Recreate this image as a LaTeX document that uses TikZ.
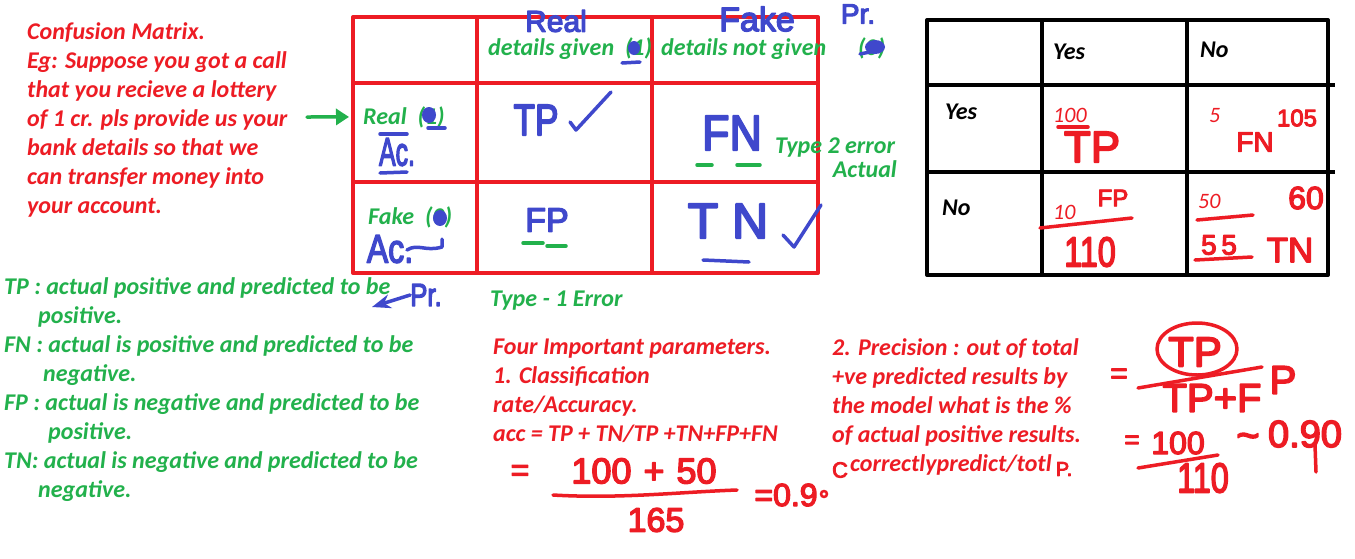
\documentclass[tikz,border=0pt]{standalone}
\usepackage{fontspec}
\setmainfont{Carlito}
\newfontfamily\handfont{Liberation Sans}[FakeBold=4]
\usetikzlibrary{arrows.meta}
\definecolor{paintred}{RGB}{237,28,36}
\definecolor{paintgreen}{RGB}{34,177,76}
\definecolor{paintblue}{RGB}{63,72,204}

\begin{document}
\begin{tikzpicture}[x=1pt,y=-1pt,>=Stealth,line cap=round,line join=round,
typed/.style={inner sep=0pt,anchor=base west,font=\fontsize{24}{29}\selectfont\bfseries\itshape},
para/.style={typed,anchor=north west,align=left},
small/.style={inner sep=0pt,anchor=base west,font=\fontsize{22}{22}\selectfont\itshape,text=paintred},
hand/.style={inner sep=0pt,font=\handfont\fontsize{#1}{#1}\selectfont},
hand/.default=30,
redgrid/.style={draw=paintred,line width=4pt,line cap=rect},
blackgrid/.style={draw=black,line width=4pt,line cap=rect},
stroke/.style={line width=3.5pt}]
\useasboundingbox[fill=white] (0,0) rectangle (1355,558);

\draw[redgrid] (353,17) rectangle (818,273);
\foreach \x in {477,652} \draw[redgrid] (\x,17) -- (\x,273);
\foreach \y in {83,182} \draw[redgrid] (353,\y) -- (818,\y);

\draw[blackgrid] (927,20) rectangle (1328,275);
\foreach \x in {1042,1187} \draw[blackgrid] (\x,20) -- (\x,275);
\foreach \y in {85,172} \draw[blackgrid] (927,\y) -- (1333,\y);

\node[para,text=paintred] (intro) at (27,22) {Confusion Matrix.\\Eg: Suppose you got a call\\that you recieve a lottery\\of 1 cr. pls provide us your\\bank details so that we\\can transfer money into\\your account.};
\node[para,text=paintgreen] (defs) at (4,277) {TP : actual positive and predicted to be\\\hspace*{34pt}positive.\\FN : actual is positive and predicted to be\\\hspace*{39pt}negative.\\FP : actual is negative and predicted to be\\\hspace*{44pt}positive.\\TN: actual is negative and predicted to be\\\hspace*{34pt}negative.};
\node[para,text=paintred] (params) at (493,339) {Four Important parameters.\\1. Classification\\rate/Accuracy.\\acc = TP + TN/TP +TN+FP+FN};
\node[para,text=paintred] (precision) at (832,338) {2. Precision : out of total\\+ve predicted results by\\the model what is the \%\\of actual positive results.\\\hspace*{18pt}correctlypredict/totl};

\node[typed,text=paintgreen] (given) at (488,55) {details given \ (1)};
\node[typed,text=paintgreen] (notgiven) at (661,55) {details not given};
\node[typed,text=paintgreen] (zero) at (858,55) {(0)};
\node[typed,text=paintgreen] (realrow) at (363,124) {Real \ (1)};
\node[typed,text=paintgreen] (fakerow) at (368,224) {Fake \ (0)};
\node[typed,text=paintgreen] (type2) at (775,153) {Type 2 error};
\node[typed,text=paintgreen,anchor=base east] (actual) at (897,177) {Actual};
\node[typed,text=paintgreen] (type1) at (490,306) {Type - 1 Error};

\node[typed] (yescol) at (1053,59) {Yes};
\node[typed] (nocol) at (1200,57) {No};
\node[typed] (yesrow) at (945,119) {Yes};
\node[typed] (norow) at (942,215) {No};
\node[small] (ntp) at (1053,122) {100};
\node[small] (nfn) at (1209,122) {5};
\node[small] (nfp) at (1053,219) {10};
\node[small] (ntn) at (1198,208) {50};

\fill[paintblue] (634,48) ellipse (6 and 7);
\draw[paintblue,stroke] (622,63) -- (640,62);
\fill[paintblue] (875,47) ellipse (10 and 7);
\draw[paintblue,stroke] (860,54) -- (880,50);
\fill[paintblue] (429,115) ellipse (7 and 8);
\draw[paintblue,stroke] (428,128) -- (445,128);
\fill[paintblue] (440,218) ellipse (7 and 8);

\node[hand=30,text=paintblue] (realhw) at (556,21) {Real};
\node[hand=34,text=paintblue] (fakehw) at (757,19) {Fake};
\node[hand=28,text=paintblue] (prtop) at (858,14) {Pr.};
\node[hand=40,text=paintblue] (acreal) at (397,152) {\scalebox{0.62}[1]{Ac.}};
\draw[paintblue,stroke] (380,134) -- (407,134);
\draw[paintblue,stroke] (380,173) -- (407,172);
\node[hand=40,text=paintblue] (acfake) at (390,249) {\scalebox{0.8}[1]{Ac.}};
\draw[paintblue,stroke] (407,250) .. controls (418,243) and (425,252) .. (442,247) -- (442,239);

\node[hand=44,text=paintblue] (tphw) at (536,120) {\scalebox{0.8}[1]{TP}};
\draw[paintblue,stroke] (570,122) -- (576,130) -- (611,92);
\node[hand=50,text=paintblue] (fnhw) at (732,133) {\scalebox{0.9}[1]{FN}};
\draw[paintgreen,stroke] (697,165) -- (712,165);
\draw[paintgreen,stroke] (737,165) -- (760,165);
\node[hand=34,text=paintblue] (fphw) at (547,220) {FP};
\draw[paintgreen,stroke] (523,243) -- (543,243);
\draw[paintgreen,stroke] (547,246) -- (566,246);
\node[hand=50,text=paintblue] (tnhw) at (728,221) {T N};
\draw[paintblue,stroke] (783,235) -- (794,247) -- (821,205);
\draw[paintblue,stroke] (703,260) -- (749,262);

\coordinate (gtail) at (307,117);
\draw[-{Triangle[length=13pt,width=16pt]},paintgreen,stroke,shorten >=14pt] (gtail) -- (realrow.west);
\node[hand=32,text=paintblue] (prbot) at (426,295) {\scalebox{0.8}[1]{Pr.}};
\coordinate (prtip) at (372,307);
\draw[->,paintblue,stroke] (prbot.west) -- (prtip);

\draw[paintred,stroke] (1058,127) -- (1088,127);
\node[hand=44,text=paintred] (tpred) at (1092,147) {TP};
\node[hand=28,text=paintred] (fnred) at (1255,142) {FN};
\node[hand=24,text=paintred] (sum105) at (1297,118) {105};
\node[hand=24,text=paintred] (fpred) at (1113,198) {FP};
\draw[paintred,stroke] (1040,228) -- (1132,218);
\node[hand=42,text=paintred] (sum110) at (1090,252) {\scalebox{0.77}[1]{110}};
\node[hand=32,text=paintred] (sum60) at (1306,198) {60};
\draw[paintred,stroke] (1197,220) -- (1253,215);
\node[hand=28,text=paintred] (sum55) at (1219,245) {5\,5};
\draw[paintred,stroke] (1195,260) -- (1252,257);
\node[hand=35,text=paintred] (tnred) at (1290,250) {TN};

\node[hand=32,text=paintred] (eqacc) at (520,473) {=};
\node[hand=36,text=paintred] (accnum) at (644,471) {100\,\,+\,\,50};
\draw[paintred,stroke] (553,495) .. controls (620,499) and (680,492) .. (737,490);
\node[hand=34,text=paintred] (accden) at (656,520) {165};
\node[hand=32,text=paintred] (accval) at (786,495) {=0.9};
\draw[paintred,line width=2.5pt] (824,494) circle (3);
\node[hand=22,text=paintred] (corc) at (840,470) {C};
\node[hand=20,text=paintred] (pend) at (1064,469) {P.};

\node[hand=30,text=paintred] (eqprec) at (1119,376) {=};
\node[hand=42,text=paintred] (tpcirc) at (1195,352) {TP};
\draw[paintred,stroke] (1197,349) ellipse (40 and 26);
\draw[paintred,stroke] (1138,388) -- (1262,367);
\node[hand=40,text=paintred] (precden) at (1212,398) {TP+F};
\node[hand=40,text=paintred] (precp) at (1283,380) {P};
\node[hand=26,text=paintred] (eqval) at (1132,442) {=};
\node[hand=32,text=paintred] (precnum) at (1178,443) {100};
\draw[paintred,stroke] (1138,468) -- (1218,455);
\node[hand=42,text=paintred] (precsum) at (1203,478) {\scalebox{0.77}[1]{110}};
\node[hand=40,text=paintred] (approx) at (1248,441) {\textasciitilde};
\node[hand=38,text=paintred] (precval) at (1305,434) {0.90};
\draw[paintred,stroke] (1315,445) -- (1316,472);
\end{tikzpicture}
\end{document}
